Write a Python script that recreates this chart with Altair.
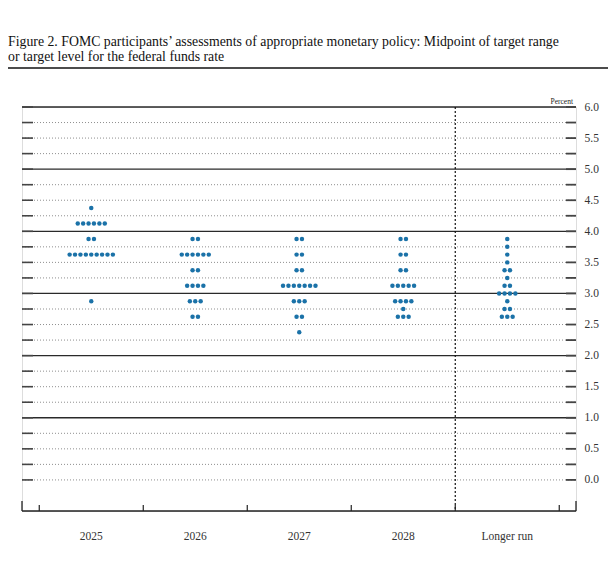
import altair as alt
import pandas as pd

TITLE_LINES = [
    "Figure 2. FOMC participants\u2019 assessments of appropriate monetary policy: Midpoint of target range",
    "or target level for the federal funds rate",
]
CATEGORIES = ["2025", "2026", "2027", "2028", "Longer run"]
RATES = [4.375, 4.125, 3.875, 3.75, 3.625, 3.5, 3.375, 3.25, 3.125, 3.0, 2.875, 2.75, 2.625, 2.375]
COUNTS_2025 = [1, 6, 2, 0, 9, 0, 0, 0, 0, 0, 1, 0, 0, 0]
COUNTS_2026 = [0, 0, 2, 0, 6, 0, 2, 0, 4, 0, 3, 0, 2, 0]
COUNTS_2027 = [0, 0, 2, 0, 2, 0, 2, 0, 7, 0, 3, 0, 2, 1]
COUNTS_2028 = [0, 0, 2, 0, 2, 0, 2, 0, 5, 0, 4, 1, 3, 0]
COUNTS_LR = [0, 0, 1, 1, 1, 1, 2, 1, 2, 4, 1, 2, 3, 0]
Y_LABELS = [0.0, 0.5, 1.0, 1.5, 2.0, 2.5, 3.0, 3.5, 4.0, 4.5, 5.0, 5.5, 6.0]
GRID_LEVELS = [i / 4 for i in range(25)]

ALL_COUNTS = [COUNTS_2025, COUNTS_2026, COUNTS_2027, COUNTS_2028, COUNTS_LR]
DOT_STEP = 0.052  # horizontal spacing of dots, in category units

W, H = 554, 404
SERIF = "Liberation Serif"
DOT_COLOR = "#1b72a8"

rows = []
for ci, counts in enumerate(ALL_COUNTS):
    for r, n in zip(RATES, counts):
        for j in range(n):
            rows.append({"x": ci + 0.5 + (j - (n - 1) / 2) * DOT_STEP, "y": r})
dots_df = pd.DataFrame(rows)

grid_df = pd.DataFrame({"y": GRID_LEVELS, "solid": [float(v).is_integer() and v > 0 for v in GRID_LEVELS]})
cat_df = pd.DataFrame({"x": [i + 0.5 for i in range(len(CATEGORIES))], "label": CATEGORIES})
bound_df = pd.DataFrame({"x": list(range(len(CATEGORIES) + 1))})

xs = alt.Scale(domain=[-0.166, 5.161], nice=False, zero=False)
ys = alt.Scale(domain=[-0.5, 6.0], nice=False, zero=False)
yaxis = alt.Axis(
    orient="right", values=Y_LABELS, format=".1f", ticks=False, domain=False, grid=False,
    labelPadding=8, labelFont=SERIF, labelFontSize=11.5, labelColor="#333333", title=None,
)
yenc = alt.Y("y:Q", scale=ys, axis=yaxis)

dotted = alt.Chart(grid_df).transform_filter("!datum.solid").mark_rule(
    color="#8f8f8f", strokeWidth=1, strokeDash=[1, 2]
).encode(y=yenc, x=alt.value(0), x2=alt.value(W))

solid = alt.Chart(grid_df).transform_filter("datum.solid").mark_rule(
    color="#2a2a2a", strokeWidth=1.3
).encode(y=yenc, x=alt.value(0), x2=alt.value(W))

left_dash = alt.Chart(grid_df).mark_rule(color="#444444", strokeWidth=1.6).encode(
    y=yenc, x=alt.value(0), x2=alt.value(11)
)
right_dash = alt.Chart(grid_df).mark_rule(color="#444444", strokeWidth=1.8).encode(
    y=yenc, x=alt.value(W - 10), x2=alt.value(W)
)

divider = alt.Chart(pd.DataFrame({"x": [4]})).mark_rule(
    color="#111111", strokeWidth=1.2, strokeDash=[2, 2]
).encode(x=alt.X("x:Q", scale=xs, axis=None), y=alt.value(0), y2=alt.value(H))

base_line = alt.Chart(pd.DataFrame({"a": [0]})).mark_rule(color="#222222", strokeWidth=1.3).encode(
    x=alt.value(0), x2=alt.value(W), y=alt.value(H)
)
caps = alt.Chart(pd.DataFrame({"px": [0, W]})).mark_rule(color="#222222", strokeWidth=1.3).encode(
    x=alt.X("px:Q", scale=None, axis=None), y=alt.value(H - 10), y2=alt.value(H)
)
ticks = alt.Chart(bound_df).mark_rule(color="#222222", strokeWidth=1.2).encode(
    x=alt.X("x:Q", scale=xs, axis=None), y=alt.value(H - 6), y2=alt.value(H)
)

dots = alt.Chart(dots_df).mark_circle(size=20, color=DOT_COLOR, opacity=1).encode(
    x=alt.X("x:Q", scale=xs, axis=None), y=yenc
)

cat_labels = alt.Chart(cat_df).mark_text(
    font=SERIF, fontSize=11.5, color="#333333", baseline="middle", align="center"
).encode(x=alt.X("x:Q", scale=xs, axis=None), y=alt.value(H + 26), text="label:N")

percent = alt.Chart(pd.DataFrame({"t": ["Percent"]})).mark_text(
    font=SERIF, fontSize=7.5, color="#222222", align="right", baseline="middle"
).encode(x=alt.value(W - 3), y=alt.value(-5), text="t:N")

title = alt.Chart(pd.DataFrame({"t": ["\n".join(TITLE_LINES)]})).mark_text(
    font=SERIF, fontSize=13.8, color="#111111", align="left", baseline="middle",
    lineBreak="\n", lineHeight=15,
).encode(x=alt.value(-14), y=alt.value(-65), text="t:N")

title_rule = alt.Chart(pd.DataFrame({"a": [0]})).mark_rule(color="#111111", strokeWidth=1.6).encode(
    x=alt.value(-14), x2=alt.value(W + 32), y=alt.value(-39)
)

chart = alt.layer(
    dotted, solid, left_dash, right_dash, divider, base_line, caps, ticks, dots,
    cat_labels, percent, title, title_rule,
).properties(
    width=W, height=H,
    autosize=alt.AutoSizeParams(type="none"),
    padding={"left": 14, "top": 99, "right": 32, "bottom": 45},
).configure_view(stroke=None).configure(background="white")

chart.save("out.html", embed_options={"renderer": "svg", "actions": False})
